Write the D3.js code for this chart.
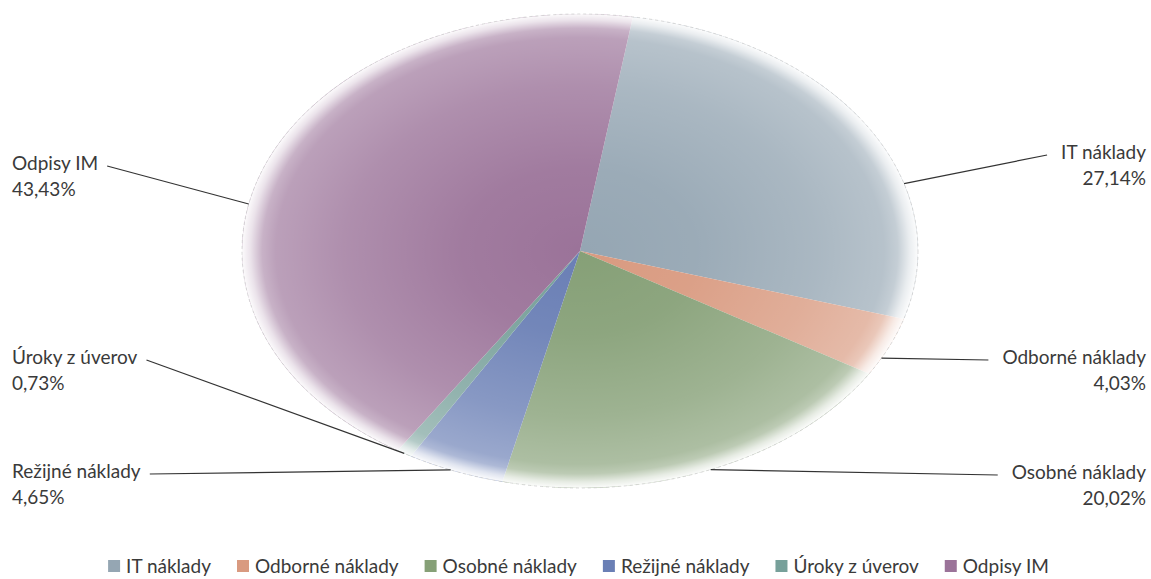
<!DOCTYPE html>
<html>
<head>
<meta charset="utf-8">
<script src="https://cdn.jsdelivr.net/npm/d3@7"></script>
<style>
  html, body { margin: 0; padding: 0; background: #fff; }
  svg text { font-family: Lato, "Open Sans", sans-serif; fill: #3a3a3a; }
</style>
</head>
<body>
<svg id="chart" width="1151" height="579"></svg>
<script>
// Cost structure (share of total, %)
const categories = ["IT náklady", "Odborné náklady", "Osobné náklady", "Režijné náklady", "Úroky z úverov", "Odpisy IM"];
const shares = [27.14, 4.03, 20.02, 4.65, 0.73, 43.43];
const colors = ["#95a6b3", "#d99a80", "#86a077", "#6a7fb5", "#77a09a", "#9b7399"];

// Label placement: side of the chart, vertical centre of the first line,
// and where along its slice each leader line meets the rim (0..1).
const labelSide = ["right", "right", "right", "left", "left", "left"];
const labelY = [152, 357, 472, 471, 357, 163];
const leaderBias = [0.66, 0.7, 0.5, 0.55, 0.5, 0.44];

const W = 1151, H = 579;
const cx = 580, cy = 251, rx = 338, ry = 237;
const fontSize = 19;

const svg = d3.select("#chart");
const defs = svg.append("defs");

const fmt = v => d3.format(".2f")(v).replace(".", ",") + "%";

const startDeg = 9;
const pie = d3.pie().sort(null).value(d => d)
  .startAngle(startDeg * Math.PI / 180)
  .endAngle((startDeg + 360) * Math.PI / 180);
const arcs = pie(shares);

const arc = d3.arc().innerRadius(0).outerRadius(ry);

// Pie drawn on a circle and stretched horizontally into an ellipse
const g = svg.append("g")
  .attr("transform", `translate(${cx},${cy}) scale(${rx / ry},1)`);

g.selectAll("path.slice")
  .data(arcs)
  .join("path")
  .attr("class", "slice")
  .attr("d", arc)
  .attr("fill", (d, i) => colors[i]);

// Soft light sheen towards the rim, fading to white at the edge
const glow = defs.append("radialGradient")
  .attr("id", "rimGlow")
  .attr("gradientUnits", "userSpaceOnUse")
  .attr("cx", 0).attr("cy", 0).attr("r", ry);
[[0, 0.0], [0.35, 0.06], [0.7, 0.2], [0.9, 0.32], [0.94, 0.45], [0.975, 0.8], [1, 0.97]]
  .forEach(([o, a]) => glow.append("stop")
    .attr("offset", o).attr("stop-color", "#fff").attr("stop-opacity", a));

g.append("circle").attr("r", ry).attr("fill", "url(#rimGlow)");

// Faint dashed outline of the pie
svg.append("ellipse")
  .attr("cx", cx).attr("cy", cy).attr("rx", rx).attr("ry", ry)
  .attr("fill", "none").attr("stroke", "#cfcfcf")
  .attr("stroke-width", 0.8).attr("stroke-dasharray", "3,3");

// Point on the ellipse rim for a d3 pie angle (clockwise from 12 o'clock)
const rimPoint = a => [cx + rx * Math.sin(a), cy - ry * Math.cos(a)];

// Data labels with leader lines
const labels = svg.append("g");
arcs.forEach((d, i) => {
  const left = labelSide[i] === "left";
  const x = left ? 12 : W - 5;
  const y0 = labelY[i];
  const t = labels.append("text")
    .attr("x", x)
    .attr("text-anchor", left ? "start" : "end")
    .style("font-size", fontSize + "px");
  t.append("tspan").attr("x", x).attr("y", y0 + 7).text(categories[i]);
  t.append("tspan").attr("x", x).attr("y", y0 + 33).text(fmt(d.value));

  const bb = t.node().getBBox();
  const a = d.startAngle + (d.endAngle - d.startAngle) * leaderBias[i];
  const [px, py] = rimPoint(a);
  const lx = left ? bb.x + bb.width + 9 : bb.x - 14;
  labels.append("line")
    .attr("x1", lx).attr("y1", y0 + 3)
    .attr("x2", px).attr("y2", py)
    .attr("stroke", "#333").attr("stroke-width", 1.2);
});

// Legend, centred under the chart
const legend = svg.append("g");
const legY = 566, sq = 12, gap = 26;
let xPos = 0;
categories.forEach((c, i) => {
  const gi = legend.append("g");
  gi.append("rect").attr("x", 0).attr("y", legY - sq / 2)
    .attr("width", sq).attr("height", sq).attr("fill", colors[i]);
  const tx = gi.append("text").attr("x", sq + 6).attr("y", legY + 7)
    .style("font-size", fontSize + "px").text(c);
  const w = sq + 6 + tx.node().getComputedTextLength();
  gi.attr("transform", `translate(${xPos},0)`);
  xPos += w + gap;
});
const total = xPos - gap;
legend.attr("transform", `translate(${(W - total) / 2 + 3},0)`);
</script>
</body>
</html>
